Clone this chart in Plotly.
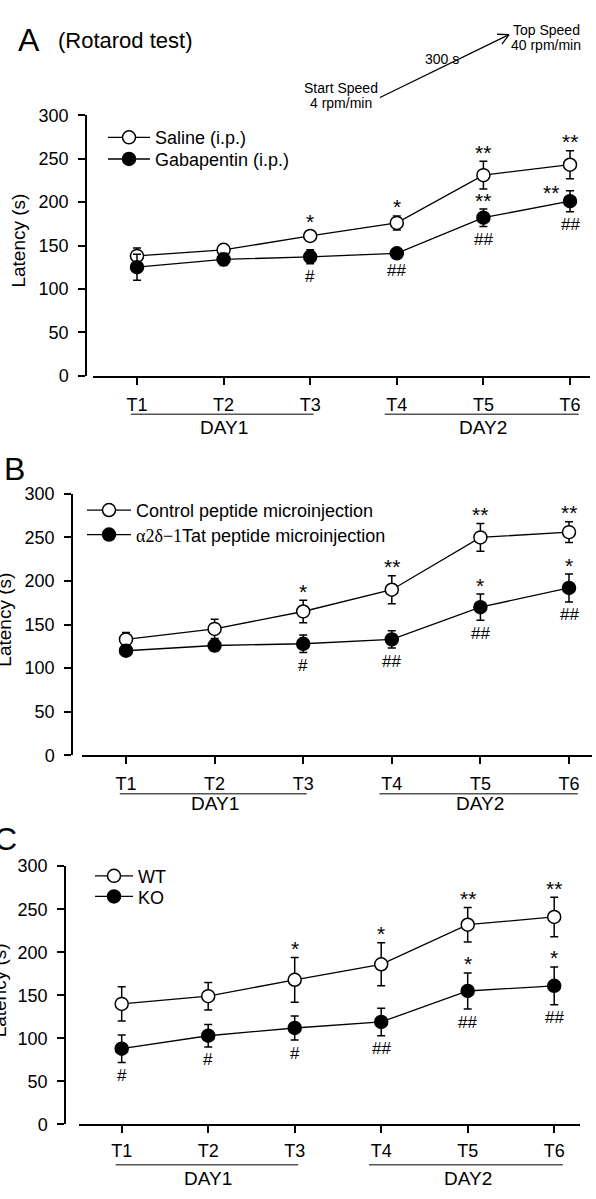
import math
import plotly.graph_objects as go

W, H = 596, 1199
FONT = "Arial, 'Liberation Sans', sans-serif"

# ---------------- data ----------------
trials = ["T1", "T2", "T3", "T4", "T5", "T6"]
day_labels = ["DAY1", "DAY2"]

# Panel A (Rotarod, i.p.)
saline_mean = [138, 145, 161, 176, 231, 243]
saline_sem = [9, 5, 6, 8, 16, 16]
gaba_mean = [125, 134, 137, 141, 182, 201]
gaba_sem = [15, 7, 8, 5, 10, 12]
saline_star = ["", "", "*", "*", "**", "**"]
gaba_star = ["", "", "", "", "**", "**"]
gaba_hash = ["", "", "#", "##", "##", "##"]

# Panel B (microinjection)
control_mean = [133, 145, 165, 190, 250, 256]
control_sem = [8, 11, 13, 16, 16, 12]
tat_mean = [120, 126, 128, 133, 170, 192]
tat_sem = [6, 6, 10, 10, 15, 16]
control_star = ["", "", "*", "**", "**", "**"]
tat_star = ["", "", "", "", "*", "*"]
tat_hash = ["", "", "#", "##", "##", "##"]

# Panel C (WT vs KO)
wt_mean = [140, 149, 168, 186, 232, 241]
wt_sem = [20, 16, 26, 25, 20, 23]
ko_mean = [88, 103, 112, 119, 155, 161]
ko_sem = [16, 13, 14, 16, 21, 22]
wt_star = ["", "", "*", "*", "**", "**"]
ko_star = ["", "", "", "", "*", "*"]
ko_hash = ["#", "#", "#", "##", "##", "##"]

y_ticks = [0, 50, 100, 150, 200, 250, 300]

# ---------------- layout helpers ----------------
def fx(p):
    return p / W

def fy(p):
    return 1 - p / H

TAT = ("<span style=\"font-family:'Liberation Serif', 'Times New Roman', serif\">"
       "\u03b12\u03b4\u22121</span>Tat peptide microinjection")

panels = [
    dict(n="", letter="A", lx=29, ly=31, x0=93, x1=590, top=107, bot=372, yx=86, t1=137, step=86.6,
         title_x=19, leg_x=103, leg_rows=[130, 152], itemw=42, tl_off=5, dl_off=39, dt_off=53,
         series=[("Saline (i.p.)", saline_mean, saline_sem, "white", saline_star, None),
                 ("Gabapentin (i.p.)", gaba_mean, gaba_sem, "black", gaba_star, gaba_hash)]),
    dict(n="2", letter="B", lx=15, ly=467, x0=82, x1=592, top=492, bot=758, yx=72, t1=126, step=88.6,
         title_x=5, leg_x=82, leg_rows=[509, 534], itemw=44, tl_off=4, dl_off=39, dt_off=49,
         series=[("Control peptide microinjection", control_mean, control_sem, "white", control_star, None),
                 (TAT, tat_mean, tat_sem, "black", tat_star, tat_hash)]),
    dict(n="3", letter="C", lx=5, ly=843, x0=79, x1=580, top=870.7, bot=1133.3, yx=65, t1=121.7, step=86.5,
         title_x=-1, leg_x=90, leg_rows=[881, 902], itemw=38, tl_off=2, dl_off=41, dt_off=55,
         series=[("WT", wt_mean, wt_sem, "white", wt_star, None),
                 ("KO", ko_mean, ko_sem, "black", ko_star, ko_hash)]),
]

fig = go.Figure()
annotations = []
shapes = []
layout = dict(
    width=W, height=H, margin=dict(l=0, r=0, t=0, b=0),
    paper_bgcolor="white", plot_bgcolor="white",
    font=dict(family=FONT, size=18, color="black"),
    showlegend=True,
)

xs = list(range(len(trials)))
leg_count = 0

for p in panels:
    n = p["n"]
    xa, ya, xr, yr = "xaxis" + n, "yaxis" + n, "x" + n, "y" + n
    x_range = [(p["x0"] - p["t1"]) / p["step"], (p["x1"] - p["t1"]) / p["step"]]
    layout[xa] = dict(
        domain=[fx(p["x0"]), fx(p["x1"])], range=x_range, anchor=yr,
        tickmode="array", tickvals=xs, ticktext=trials,
        showline=True, linecolor="black", linewidth=1.5,
        ticks="outside", ticklen=7, tickwidth=1.5, tickcolor="black",
        showgrid=False, zeroline=False, ticklabelstandoff=p["tl_off"],
        tickfont=dict(family=FONT, size=18, color="black"),
    )
    layout[ya] = dict(
        domain=[fy(p["bot"]), fy(p["top"])], range=[0, 300], anchor="free", position=fx(p["yx"]),
        tickmode="array", tickvals=y_ticks,
        showline=True, linecolor="black", linewidth=1.5,
        ticks="outside", ticklen=7, tickwidth=1.5, tickcolor="black",
        showgrid=False, zeroline=False, ticklabelstandoff=6,
        tickfont=dict(family=FONT, size=18, color="black"),
    )
    for (name, mean, sem, fill, stars, hashes), row_y in zip(p["series"], p["leg_rows"]):
        leg_count += 1
        leg = "legend" if leg_count == 1 else "legend%d" % leg_count
        layout[leg] = dict(
            x=fx(p["leg_x"]), y=fy(row_y - 19), xanchor="left", yanchor="top",
            bgcolor="rgba(0,0,0,0)", borderwidth=0, itemwidth=p["itemw"],
            font=dict(family=FONT, size=18, color="black"), itemclick=False,
        )
        fig.add_trace(go.Scatter(
            x=xs, y=mean, name=name, mode="lines+markers",
            xaxis=xr, yaxis=yr, legend=leg, cliponaxis=False,
            line=dict(color="black", width=1.3),
            marker=dict(symbol="circle", size=13, color=fill, line=dict(color="black", width=1.5)),
            error_y=dict(type="data", array=sem, visible=True, color="black", thickness=1.5, width=4),
        ))
        # significance marks placed relative to each error bar end
        for i, s in enumerate(stars):
            if not s:
                continue
            xshift, yshift, yval = 0, 9, mean[i] + sem[i]
            if p["letter"] == "A" and fill == "black" and i == 5:
                xshift, yshift = -19, -2
            annotations.append(dict(x=i, y=yval, xref=xr, yref=yr, text=s, showarrow=False,
                                    xshift=xshift, yshift=yshift, yanchor="middle",
                                    font=dict(family=FONT, size=21, color="black")))
        if hashes:
            for i, s in enumerate(hashes):
                if not s:
                    continue
                annotations.append(dict(x=i, y=mean[i] - sem[i], xref=xr, yref=yr, text=s,
                                        showarrow=False, yshift=-13, yanchor="middle",
                                        font=dict(family=FONT, size=17, color="black")))
    # panel letter
    annotations.append(dict(x=fx(p["lx"]), y=fy(p["ly"]), xref="paper", yref="paper", text=p["letter"],
                            showarrow=False, xanchor="center", yanchor="middle",
                            font=dict(family=FONT, size=32, color="black")))
    # y-axis title
    annotations.append(dict(x=fx(p["title_x"]), y=fy((p["top"] + p["bot"]) / 2 - 5), xref="paper", yref="paper",
                            text="Latency (s)", textangle=-90, showarrow=False,
                            xanchor="center", yanchor="middle",
                            font=dict(family=FONT, size=19, color="black")))
    # day underlines and labels
    line_y = fy(p["bot"] + p["dl_off"])
    text_y = fy(p["bot"] + p["dt_off"])
    for (a, b), lab, cx in zip([(-0.07, 2.04), (2.86, 5.1)], day_labels, [1, 4]):
        shapes.append(dict(type="line", xref=xr, yref="paper", x0=a, x1=b, y0=line_y, y1=line_y,
                           line=dict(color="#555555", width=1.5)))
        annotations.append(dict(x=cx, y=text_y, xref=xr, yref="paper", text=lab, showarrow=False,
                                xanchor="center", yanchor="middle",
                                font=dict(family=FONT, size=19, color="black")))

# header of panel A
annotations.append(dict(x=fx(56), y=fy(31), xref="paper", yref="paper", text="(Rotarod test)",
                        showarrow=False, xanchor="left", yanchor="middle",
                        font=dict(family=FONT, size=22, color="black")))
for txt, cx, cy in [("Top Speed", 546, 20), ("40 rpm/min", 546, 36), ("300 s", 442, 50),
                    ("Start Speed", 341, 79), ("4 rpm/min", 341, 95)]:
    annotations.append(dict(x=fx(cx), y=fy(cy), xref="paper", yref="paper", text=txt,
                            showarrow=False, xanchor="center", yanchor="middle",
                            font=dict(family=FONT, size=14, color="black")))

# speed arrow (open arrowhead)
tail = (380, 89)
head = (509, 25)
shapes.append(dict(type="line", xref="paper", yref="paper", x0=fx(tail[0]), y0=fy(tail[1]),
                   x1=fx(head[0]), y1=fy(head[1]), line=dict(color="black", width=1.3)))
ang = math.atan2(head[1] - tail[1], head[0] - tail[0])
for d in (math.radians(28), -math.radians(28)):
    bx = head[0] - 12 * math.cos(ang + d)
    by = head[1] - 12 * math.sin(ang + d)
    shapes.append(dict(type="line", xref="paper", yref="paper", x0=fx(head[0]), y0=fy(head[1]),
                       x1=fx(bx), y1=fy(by), line=dict(color="black", width=1.3)))

layout["annotations"] = annotations
layout["shapes"] = shapes
fig.update_layout(**layout)

fig.write_html("out.html", config={"displayModeBar": False},
               post_script="document.body.style.margin='0';document.body.style.overflow='hidden';")
